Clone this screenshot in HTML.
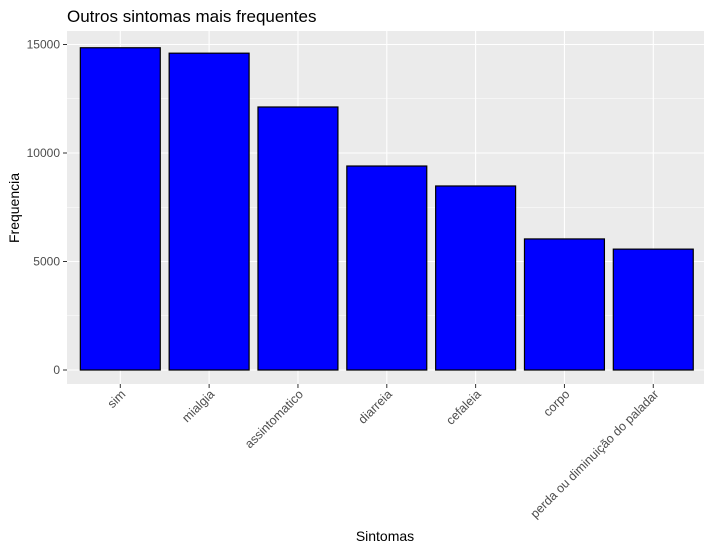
<!DOCTYPE html>
<html><head><meta charset="utf-8"><style>
body{margin:0;background:#fff;}
text{font-family:"Liberation Sans",sans-serif;}
</style></head><body>
<svg id="c" width="714" height="550" xmlns="http://www.w3.org/2000/svg">
<rect width="714" height="550" fill="#fff"/>
<text x="67" y="22" font-size="17" fill="#000">Outros sintomas mais frequentes</text>
<rect x="67" y="31" width="637" height="353" fill="#ebebeb"/>
<g id="grid"></g><g id="bars"></g><g id="axes"></g>
<text x="385" y="541" font-size="14" text-anchor="middle">Sintomas</text>
<text transform="translate(19,208) rotate(-90)" font-size="14" text-anchor="middle">Frequencia</text>
</svg>
<script>
const categories=["sim","mialgia","assintomatico","diarreia","cefaleia","corpo","perda ou diminuição do paladar"];
const values=[14850,14600,12120,9400,8480,6040,5570];
const yTicks=[0,5000,10000,15000];
const NS="http://www.w3.org/2000/svg";
const panelL=67,panelR=704,y0=370,pxPer=108.5/5000;
const step=88.83;
const xc=i=>panelL+step*(0.6+i);
const ys=v=>y0-v*pxPer;
function mk(t,a,p){const e=document.createElementNS(NS,t);for(const k in a)e.setAttribute(k,a[k]);p.appendChild(e);return e;}
const grid=document.getElementById('grid'),bars=document.getElementById('bars'),axes=document.getElementById('axes');
for(let k=0;k<yTicks.length;k++){
 const v=yTicks[k];
 const g=mk('line',{x1:panelL,x2:panelR,y1:ys(v),y2:ys(v),stroke:'#fff','stroke-width':1.1},grid);
 
 
 if(k<yTicks.length-1){const m=mk('line',{x1:panelL,x2:panelR,y1:ys(v+2500),y2:ys(v+2500),stroke:'#fff','stroke-width':0.5},grid);
 
 }
 const t=mk('text',{x:panelL-7,y:ys(v)+4,'font-size':12,'text-anchor':'end',fill:'#4d4d4d'},axes);
 t.textContent=v;
 
 
 mk('line',{x1:panelL-4,x2:panelL,y1:ys(v),y2:ys(v),stroke:'#333'},axes);
}
categories.forEach((c,i)=>{
 const x=xc(i),w=step*0.9;
 const gl=mk('line',{x1:x,x2:x,y1:31,y2:384,stroke:'#fff','stroke-width':1.1},grid);
 
 
 const r=mk('rect',{x:x-w/2,y:ys(values[i]),width:w,height:y0-ys(values[i]),fill:'#0000ff',stroke:'#000','stroke-width':1.2},bars);
 
 
 mk('line',{x1:x,x2:x,y1:384,y2:388,stroke:'#333'},axes);
 const t=mk('text',{transform:`translate(${x+6},${395}) rotate(-45)`,'font-size':12.5,'text-anchor':'end',fill:'#4d4d4d'},axes);
 t.textContent=c;
 
 
});
</script>
</body></html>
